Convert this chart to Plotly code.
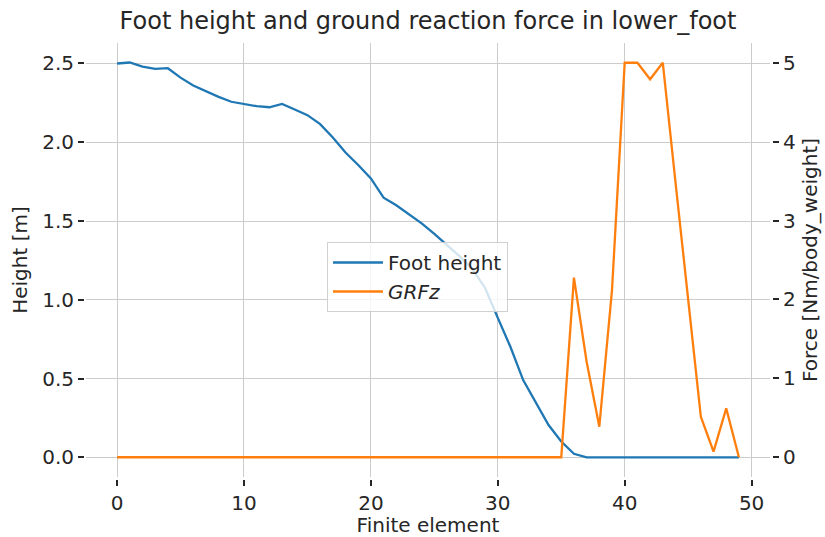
import plotly.graph_objects as go

# Finite element index along the stride
finite_element = list(range(50))

# Foot height above ground [m]
foot_height = [
    2.500, 2.506, 2.480, 2.466, 2.470, 2.410, 2.360, 2.323, 2.288, 2.257,
    2.243, 2.229, 2.222, 2.243, 2.208, 2.172, 2.115, 2.030, 1.935, 1.856,
    1.770, 1.648, 1.600, 1.545, 1.485, 1.418, 1.348, 1.275, 1.195, 1.075,
    0.885, 0.700, 0.490, 0.345, 0.205, 0.100, 0.022, 0.000, 0.000, 0.000,
    0.000, 0.000, 0.000, 0.000, 0.000, 0.000, 0.000, 0.000, 0.000, 0.000,
]

# Vertical ground reaction force [Nm/body_weight]
grf_z = [
    0.0, 0.0, 0.0, 0.0, 0.0, 0.0, 0.0, 0.0, 0.0, 0.0,
    0.0, 0.0, 0.0, 0.0, 0.0, 0.0, 0.0, 0.0, 0.0, 0.0,
    0.0, 0.0, 0.0, 0.0, 0.0, 0.0, 0.0, 0.0, 0.0, 0.0,
    0.0, 0.0, 0.0, 0.0, 0.0, 0.0, 2.276, 1.21, 0.387, 2.12,
    5.0, 5.0, 4.79, 5.0, 3.49, 1.99, 0.514, 0.072, 0.62, 0.0,
]

x_ticks = [0, 10, 20, 30, 40, 50]
height_ticks = [0.0, 0.5, 1.0, 1.5, 2.0, 2.5]
force_ticks = [0, 1, 2, 3, 4, 5]

FONT = "DejaVu Sans"
TEXT = "#262626"
GRID = "#cccccc"
BLUE = "#1f77b4"
ORANGE = "#ff7f0e"

W, H = 825, 537
ML, MR, MT, MB = 84, 53, 43, 58
PW, PH = W - ML - MR, H - MT - MB

fig = go.Figure()
fig.add_trace(go.Scatter(
    x=finite_element, y=foot_height, mode="lines", name="Foot height",
    line=dict(color=BLUE, width=2.3), yaxis="y",
))
fig.add_trace(go.Scatter(
    x=finite_element, y=grf_z, mode="lines", name="<i>GRFz</i>",
    line=dict(color=ORANGE, width=2.3), yaxis="y2",
))

tick_common = dict(
    ticks="outside", ticklen=6, tickwidth=1.6, tickcolor=TEXT,
    tickfont=dict(family=FONT, size=20, color=TEXT),
    showline=False, zeroline=False, automargin=False,
)

fig.update_layout(
    width=W, height=H,
    margin=dict(l=ML, r=MR, t=MT, b=MB, pad=0),
    paper_bgcolor="white", plot_bgcolor="white",
    font=dict(family=FONT, size=20, color=TEXT),
    title=dict(
        text="Foot height and ground reaction force in lower_foot",
        font=dict(family=FONT, size=24, color=TEXT),
        x=0.5, xanchor="center", xref="paper",
        y=1 - 21 / H, yanchor="middle", yref="container",
    ),
    xaxis=dict(
        domain=[2 / PW, (PW - 2) / PW],
        range=[-2.45, 51.45],
        tickvals=x_ticks,
        showgrid=True, gridcolor=GRID, gridwidth=1.4,
        anchor="free", position=0,
        ticklabelstandoff=0,
        title=dict(text="Finite element", standoff=10,
                   font=dict(family=FONT, size=20, color=TEXT)),
        **tick_common,
    ),
    yaxis=dict(
        domain=[2 / PH, 1],
        range=[-0.125, 2.63],
        tickvals=height_ticks,
        tickformat=".1f",
        showgrid=True, gridcolor=GRID, gridwidth=1.4,
        anchor="free", position=0,
        title=dict(text="Height [m]", standoff=8,
                   font=dict(family=FONT, size=20, color=TEXT)),
        **tick_common,
    ),
    yaxis2=dict(
        domain=[2 / PH, 1],
        range=[-0.25, 5.25],
        tickvals=force_ticks,
        showgrid=False,
        overlaying="y", side="right",
        anchor="free", position=1,
        title=dict(text="Force [Nm/body_weight]", standoff=8,
                   font=dict(family=FONT, size=20, color=TEXT)),
        **tick_common,
    ),
    legend=dict(
        x=(327 - ML) / PW, xanchor="left",
        y=(H - MB - 242) / PH, yanchor="top",
        bgcolor="rgba(255,255,255,0.8)",
        bordercolor="#d0d0d0", borderwidth=1,
        itemwidth=50,
        font=dict(family=FONT, size=20, color=TEXT),
    ),
    showlegend=True,
)

fig.write_html("out.html")
